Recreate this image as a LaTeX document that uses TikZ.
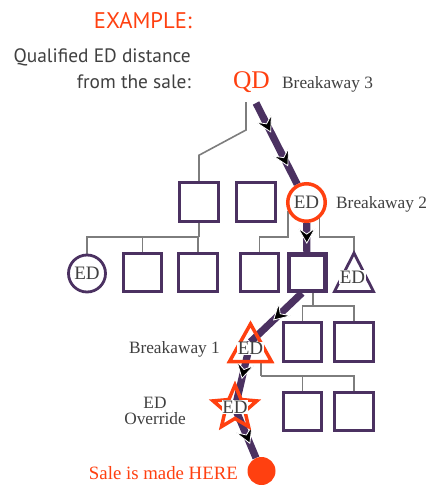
\documentclass[tikz,border=0pt]{standalone}
\usepackage{fontspec}
\setmainfont{Liberation Serif}
\newfontfamily\sansf{PT Sans}
\usetikzlibrary{calc,shapes.geometric}
\definecolor{purp}{RGB}{75,49,97}
\definecolor{orng}{RGB}{255,64,16}
\definecolor{lnk}{RGB}{125,125,125}
\definecolor{txt}{RGB}{64,64,64}
\pgfdeclarelayer{bg}
\pgfsetlayers{bg,main}
% chevron arrowhead on the line from #1 to #2, tip at fraction #3
\newcommand{\chevat}[3]{%
  \path ($(#1)!#3!(#2)$) coordinate (cvt)
        ($(cvt)!15pt!(#1)$) coordinate (cvb)
        ($(cvt)!9pt!(#1)$) coordinate (cvn);
  \filldraw[fill=black, draw=white, line width=0.8pt, line join=miter]
     (cvt) -- ($(cvb)!8.5pt!90:(cvt)$) -- (cvn) -- ($(cvb)!8.5pt!-90:(cvt)$) -- cycle;}
\begin{document}
\begin{tikzpicture}[x=1pt,y=-1pt,
  box/.style={rectangle, draw=purp, line width=3, fill=white, minimum size=38.5, inner sep=0},
  boldbox/.style={box, line width=4.5, minimum size=36.5},
  edfont/.style={font=\fontsize{19}{19}\selectfont, text=txt},
  edlabel/.style={edfont, fill=white, inner sep=0.4},
  lbl/.style={font=\fontsize{17.3}{17.3}\selectfont, text=txt, inner sep=0},
  sanslbl/.style={font=\sansf\fontsize{19.4}{19.4}\selectfont, text=txt, inner sep=0},
  link/.style={draw=lnk, line width=1.6},
  flow/.style={draw=purp, line width=7.2},
]
\useasboundingbox (0,0) rectangle (427,485);

% texts
\node[font=\sansf\fontsize{22.6}{22.6}\selectfont, text=orng, inner sep=0, anchor=base east] (ex) at (192,28) {EXAMPLE:};
\node[sanslbl, anchor=base east] (q1) at (191,62.5) {Qualified ED distance};
\node[sanslbl, anchor=base east] (q2) at (191,88) {from the sale:};
\node[font=\fontsize{25.5}{25.5}\selectfont, text=orng, inner sep=0, anchor=base] (qd) at (251.5,88) {QD};
\node[lbl, anchor=base west] (bk3) at (282,88) {Breakaway 3};

% row 1
\node[box] (a1) at (199,202) {};
\node[box] (a2) at (256,202) {};
\node[circle, draw=orng, line width=3.5, fill=white, minimum size=37.5, inner sep=0, edfont] (ed2) at (306.5,202.5) {ED};
\node[lbl, anchor=base west] (bk2) at (336,208) {Breakaway 2};

% row 2
\node[circle, draw=purp, line width=2.8, fill=white, minimum size=37, inner sep=0, edfont] (e1) at (87,273.5) {ED};
\node[box] (b1) at (142.5,272.5) {};
\node[box] (b2) at (198,272.5) {};
\node[box] (b3) at (259.5,272.5) {};
\node[boldbox] (bold) at (307,272.5) {};
\coordinate (tri2) at (354,272);
\coordinate (tri2top) at ([shift={(0,-19)}]tri2);
\draw[draw=purp, line width=2.8, fill=white] (tri2top) -- ([shift={(-19.5,19.5)}]tri2) -- ([shift={(19.5,19.5)}]tri2) -- cycle;
\node[edlabel] (tri2ed) at (352.5,277) {ED};

% row 3
\node[box] (c1) at (302.5,342) {};
\node[box] (c2) at (354,342) {};
\coordinate (tri1) at (250.5,342);
\coordinate (tri1b) at ([shift={(10.5,19.5)}]tri1);
\node[lbl, anchor=base east] (bk1) at (220,353.5) {Breakaway 1};

% row 4
\node[box] (d1) at (302.5,411.5) {};
\node[box] (d2) at (354,411.5) {};
\node[star, star points=5, star point ratio=2.2, minimum size=46, inner sep=0] (star) at (235,408) {};
\node[lbl, anchor=base] (ovr1) at (155,408) {ED};
\node[lbl, anchor=base] (ovr2) at (155,424) {Override};

% sale
\node[circle, fill=orng, minimum size=28, inner sep=0] (sale) at (261.5,471) {};
\node[font=\fontsize{18.8}{18.8}\selectfont, text=orng, inner sep=0, anchor=base east] (saletxt) at (238,479) {Sale is made HERE};

\begin{pgfonlayer}{bg}
  % gray tree links
  \coordinate (ql) at (246,102);
  \draw[link] (ql) -- ++(0,28) -- ([yshift=26]a1.north) -- (a1.north);
  \draw[link] (a1.south) -- ++(0,14) coordinate (j1);
  \draw[link] (j1) -| (e1.north);
  \draw[link] (j1) -| (b1.north);
  \draw[link] (j1) -| (b2.north);
  \draw[link] (ed2.205) -- (ed2.205 |- j1) -| (b3.north);
  \draw[link] (ed2.309) -- (ed2.309 |- j1) -| (tri2top);
  \draw[link] ([xshift=6]bold.south) -- ++(0,13) coordinate (j2);
  \draw[link] (j2) -| (c1.north);
  \draw[link] (j2) -| (c2.north);
  \draw[link] (tri1b) -- ++(0,14.5) coordinate (j3);
  \draw[link] (j3) -| (d1.north);
  \draw[link] (j3) -| (d2.north);
  % purple flow
  \coordinate (qs) at (256,103);
  \coordinate (bs) at ([xshift=-5]bold.south);
  \draw[flow] (qs) -- (ed2);
  \draw[flow] (ed2) -- (bold);
  \draw[flow] (bs) -- (tri1);
  \draw[flow] (tri1) -- (star.center);
  \draw[flow] (star.center) -- (sale);
  % chevrons
  \chevat{qs}{ed2}{0.29}
  \chevat{qs}{ed2}{0.63}
  \chevat{ed2}{bold}{0.58}
  \chevat{bs}{tri1}{0.55}
  \chevat{tri1}{star}{0.55}
  \chevat{star}{sale}{0.56}
\end{pgfonlayer}

% orange shapes on top of flow
\draw[draw=orng, line width=3.5] ([shift={(0,-18)}]tri1) -- ([shift={(-21,19.5)}]tri1) -- ([shift={(21,19.5)}]tri1) -- cycle;
\node[edlabel] (tri1ed) at (250.5,348.5) {ED};
\node[star, star points=5, star point ratio=2.2, minimum size=46, inner sep=0, draw=orng, line width=3.5] (starline) at (star) {};
\node[edlabel] (stared) at (235,407) {ED};
\end{tikzpicture}
\end{document}
